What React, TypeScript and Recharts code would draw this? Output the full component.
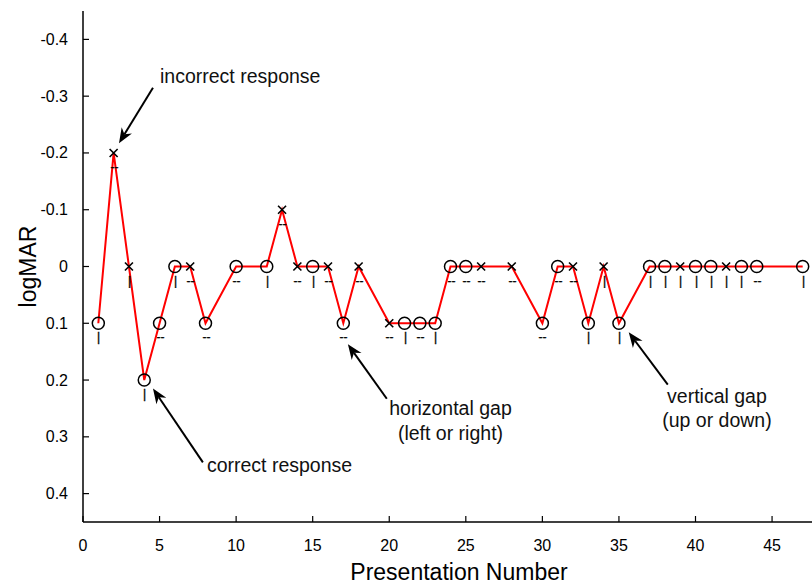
import React from "react";
import {
  ComposedChart,
  Line,
  XAxis,
  YAxis,
  ReferenceLine,
  ReferenceDot,
  Label,
} from "recharts";

// presentation number, logMAR level shown, response and gap direction
const trials = [1, 2, 3, 4, 5, 6, 7, 8, 10, 12, 13, 14, 15, 16, 17, 18, 20, 21, 22, 23, 24, 25, 26, 28, 30, 31, 32, 33, 34, 35, 37, 38, 39, 40, 41, 42, 43, 44, 47];
const logmar = [0.1, -0.2, 0, 0.2, 0.1, 0, 0, 0.1, 0, 0, -0.1, 0, 0, 0, 0.1, 0, 0.1, 0.1, 0.1, 0.1, 0, 0, 0, 0, 0.1, 0, 0, 0.1, 0, 0.1, 0, 0, 0, 0, 0, 0, 0, 0, 0];
const correct = [true, false, false, true, true, true, false, true, true, true, false, false, true, false, true, false, false, true, true, true, true, true, false, false, true, true, false, true, false, true, true, true, false, true, true, false, true, true, true];
const gaps = ["|", "--", "|", "|", "--", "|", "--", "--", "--", "|", "--", "--", "|", "--", "--", "--", "--", "|", "--", "|", "--", "--", "--", "--", "--", "--", "--", "|", "|", "|", "|", "|", "|", "|", "|", "|", "|", "--", "|"];

const xTicks = [0, 5, 10, 15, 20, 25, 30, 35, 40, 45];
const yTicks = [-0.4, -0.3, -0.2, -0.1, 0, 0.1, 0.2, 0.3, 0.4];

const rows = trials.map((t, i) => ({
  trial: t,
  logmar: logmar[i],
  correct: correct[i],
  gap: gaps[i],
}));

// callout arrows (tail -> head) and text, in data units
const arrows = [
  { from: { x: 4.57, y: -0.315 }, to: { x: 2.35, y: -0.217 } },
  { from: { x: 7.83, y: 0.345 }, to: { x: 4.57, y: 0.215 } },
  { from: { x: 19.84, y: 0.233 }, to: { x: 17.3, y: 0.137 } },
  { from: { x: 38.19, y: 0.208 }, to: { x: 35.64, y: 0.116 } },
];
const notes = [
  { x: 5.03, y: -0.3225, text: "incorrect response", anchor: "start" },
  { x: 8.09, y: 0.3612, text: "correct response", anchor: "start" },
  { x: 24.0, y: 0.261, text: "horizontal gap", anchor: "middle" },
  { x: 24.0, y: 0.305, text: "(left or right)", anchor: "middle" },
  { x: 41.4, y: 0.2396, text: "vertical gap", anchor: "middle" },
  { x: 41.4, y: 0.282, text: "(up or down)", anchor: "middle" },
];

const FONT = '"Liberation Sans", Arial, Helvetica, sans-serif';
const TICK = 6;

const fmt = (v: number) => (v === 0 ? "0" : v.toFixed(1));

function Marker(props: any) {
  const { cx, cy, payload, index } = props;
  if (cx == null || cy == null) return null;
  return (
    <g key={`mk-${index}`}>
      {payload.correct ? (
        <circle cx={cx} cy={cy} r={6} fill="none" stroke="#000" strokeWidth={1.5} />
      ) : (
        <path
          d={`M${cx - 4},${cy - 4}L${cx + 4},${cy + 4}M${cx - 4},${cy + 4}L${cx + 4},${cy - 4}`}
          stroke="#000"
          strokeWidth={1.6}
        />
      )}
      {/* gap direction glyph; the group opacity keeps it grey-scale antialiased */}
      <g opacity={0.99}>
        <text
          x={Math.round(cx) + 0.5}
          y={cy + 18}
          textAnchor="middle"
          fontSize={12}
          fontFamily={FONT}
          fill="#000"
          stroke="#000"
          strokeWidth={0.35}
        >
          {payload.gap}
        </text>
      </g>
    </g>
  );
}

const BottomTick = ({ x, y, payload }: any) => (
  <g>
    <line x1={x} y1={y} x2={x} y2={y - TICK} stroke="#000" strokeWidth={1.2} />
    <text x={x} y={y + 29} textAnchor="middle" fontSize={16} fontFamily={FONT} fill="#000">
      {payload.value}
    </text>
  </g>
);

const TopTick = ({ x, y }: any) => (
  <line x1={x} y1={y} x2={x} y2={y + TICK} stroke="#000" strokeWidth={1.2} />
);

const LeftTick = ({ x, y, payload }: any) => (
  <g>
    <line x1={x} y1={y} x2={x + TICK} y2={y} stroke="#000" strokeWidth={1.2} />
    <text x={x - 15} y={y + 5.5} textAnchor="end" fontSize={16} fontFamily={FONT} fill="#000">
      {fmt(payload.value)}
    </text>
  </g>
);

const RightTick = ({ x, y }: any) => (
  <line x1={x} y1={y} x2={x - TICK} y2={y} stroke="#000" strokeWidth={1.2} />
);

function Arrow(props: any) {
  const { x1, y1, x2, y2 } = props;
  const dx = x2 - x1;
  const dy = y2 - y1;
  const len = Math.hypot(dx, dy) || 1;
  const ux = dx / len;
  const uy = dy / len;
  const hl = 15;
  const hw = 6;
  const bx = x2 - ux * hl;
  const by = y2 - uy * hl;
  const ix = x2 - ux * hl * 0.7;
  const iy = y2 - uy * hl * 0.7;
  return (
    <g>
      <line x1={x1} y1={y1} x2={ix} y2={iy} stroke="#000" strokeWidth={2} />
      <polygon
        points={`${x2},${y2} ${bx - uy * hw},${by + ux * hw} ${ix},${iy} ${bx + uy * hw},${by - ux * hw}`}
        fill="#000"
      />
    </g>
  );
}

const axisLine = { stroke: "#000", strokeWidth: 1.5 };

export default function App() {
  return (
    <div
      style={{
        position: "absolute",
        left: 0,
        top: 0,
        width: 812,
        height: 586,
        overflow: "hidden",
        background: "#fff",
      }}
    >
      <ComposedChart
        width={840}
        height={586}
        data={rows}
        margin={{ top: 11, right: 22, bottom: 0, left: 0 }}
      >
        <XAxis
          dataKey="trial"
          type="number"
          domain={[0, 48]}
          ticks={xTicks}
          interval={0}
          allowDataOverflow
          height={64}
          tickSize={0}
          tickMargin={0}
          tickLine={false}
          axisLine={axisLine}
          tick={BottomTick}
        >
          <Label
            content={({ viewBox }: any) => (
              <text
                x={viewBox.x + 376}
                y={viewBox.y + 58}
                textAnchor="middle"
                fontSize={23}
                fontFamily={FONT}
                fill="#000"
              >
                Presentation Number
              </text>
            )}
          />
        </XAxis>
        <XAxis
          xAxisId="top"
          orientation="top"
          type="number"
          domain={[0, 48]}
          ticks={xTicks}
          interval={0}
          allowDataOverflow
          height={0}
          tickSize={0}
          tickMargin={0}
          tickLine={false}
          axisLine={axisLine}
          tick={TopTick}
        />
        <YAxis
          type="number"
          domain={[-0.45, 0.45]}
          ticks={yTicks}
          interval={0}
          reversed
          allowDataOverflow
          width={83}
          tickSize={0}
          tickMargin={0}
          tickLine={false}
          axisLine={axisLine}
          tick={LeftTick}
        >
          <Label
            content={({ viewBox }: any) => {
              const cx = 28;
              const cy = viewBox.y + viewBox.height / 2;
              return (
                <text
                  x={cx}
                  y={cy}
                  transform={`rotate(-90, ${cx}, ${cy})`}
                  textAnchor="middle"
                  dominantBaseline="central"
                  fontSize={23}
                  fontFamily={FONT}
                  fill="#000"
                >
                  logMAR
                </text>
              );
            }}
          />
        </YAxis>
        <YAxis
          yAxisId="right"
          orientation="right"
          type="number"
          domain={[-0.45, 0.45]}
          ticks={yTicks}
          interval={0}
          reversed
          allowDataOverflow
          width={0}
          tickSize={0}
          tickMargin={0}
          tickLine={false}
          axisLine={axisLine}
          tick={RightTick}
        />
        <Line
          dataKey="logmar"
          type="linear"
          stroke="#ff0000"
          strokeWidth={2}
          dot={Marker}
          activeDot={false}
          isAnimationActive={false}
        />
        {arrows.map((a, i) => (
          <ReferenceLine
            key={`arrow-${i}`}
            segment={[a.from, a.to]}
            shape={Arrow}
          />
        ))}
        {notes.map((n, i) => (
          <ReferenceDot
            key={`note-${i}`}
            x={n.x}
            y={n.y}
            r={0}
            shape={(p: any) => (
              <text
                x={p.cx}
                y={p.cy}
                textAnchor={n.anchor as any}
                fontSize={19.5}
                fontFamily={FONT}
                fill="#111"
              >
                {n.text}
              </text>
            )}
          />
        ))}
      </ComposedChart>
    </div>
  );
}
